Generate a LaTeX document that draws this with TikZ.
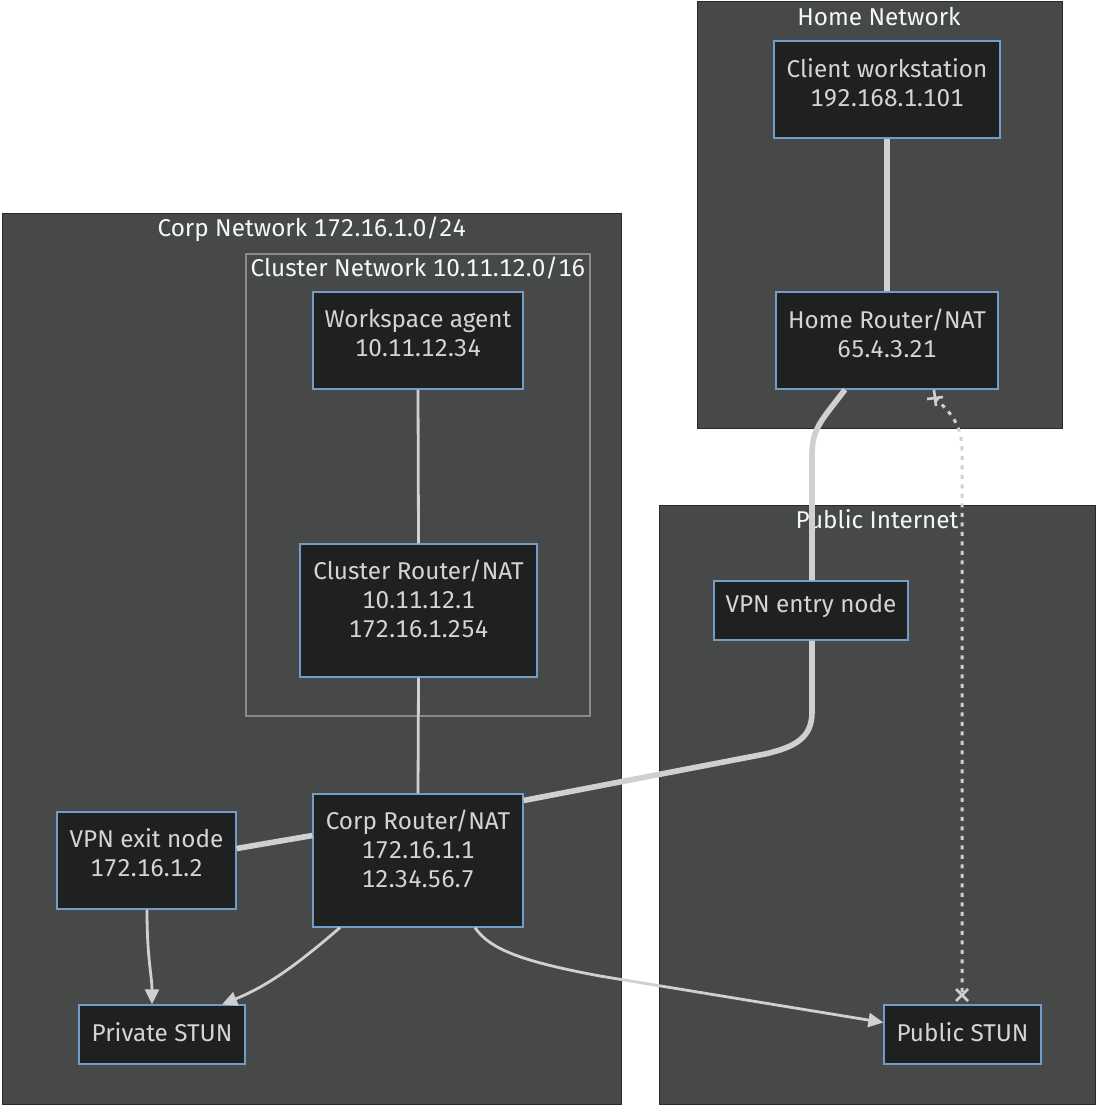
\documentclass[tikz,border=0pt]{standalone}
\usepackage{fontspec}
\setmainfont[Numbers=Monospaced]{Fira Sans}
\usetikzlibrary{arrows.meta}
\definecolor{clbg}{HTML}{474949}
\definecolor{clbd}{HTML}{2A2A2A}
\definecolor{inbd}{HTML}{8A8A8A}
\definecolor{nfill}{HTML}{1F2020}
\definecolor{nbd}{HTML}{739CC6}
\definecolor{edge}{HTML}{D0D0D0}
\definecolor{ntext}{HTML}{D4D4D4}
\definecolor{ttext}{HTML}{F4F8F8}
\begin{document}
\begin{tikzpicture}[x=1pt,y=-1pt,
  cluster/.style={draw=clbd,fill=clbg,line width=1pt},
  innercluster/.style={draw=inbd,line width=1.2pt},
  box/.style={draw=nbd,fill=nfill,line width=1.2pt,inner sep=0pt},
  boxtext/.style={text=ntext,align=center,inner sep=0pt,font=\fontsize{24.3}{29}\selectfont},
  ctitle/.style={text=ttext,inner sep=0pt,font=\fontsize{24.3}{29}\selectfont},
  thin/.style={draw=edge,line width=2.8pt},
  thick/.style={draw=edge,line width=5.6pt},
  arr/.style={draw=edge,line width=2.8pt,-{Triangle[length=15pt,width=14pt]}},
  dotl/.style={draw=edge,line width=3pt,dash pattern=on 4pt off 5.5pt},
  crossm/.style={draw=edge,line width=2.6pt}
]
\useasboundingbox (0,0) rectangle (1100,1107);
% clusters
\draw[cluster] (697,2) rectangle (1062,428);
\node[ctitle] (homet) at (879,17) {Home Network};
\draw[cluster] (2,214) rectangle (621,1104);
\node[ctitle] (corpt) at (312,229) {Corp Network 172.16.1.0/24};
\draw[innercluster] (246,254) rectangle (590,716);
\node[ctitle] (clut) at (418,268) {Cluster Network 10.11.12.0/16};
\draw[cluster] (659,505) rectangle (1095,1104);
\node[ctitle] (pubt) at (877,519) {Public Internet};

% nodes
\node[box,minimum width=226pt,minimum height=97pt] (cw) at (887,89.5) {};
\node[box,minimum width=222pt,minimum height=97pt] (hr) at (887,340.5) {};
\node[box,minimum width=210pt,minimum height=97pt] (wa) at (418,340.5) {};
\node[box,minimum width=237pt,minimum height=133pt] (cr) at (418.5,610.5) {};
\node[box,minimum width=210pt,minimum height=133pt] (co) at (418,860.5) {};
\node[box,minimum width=179pt,minimum height=97pt] (ve) at (146.5,860.5) {};
\node[box,minimum width=166pt,minimum height=59pt] (ps) at (162,1034.5) {};
\node[box,minimum width=194pt,minimum height=59pt] (vn) at (811,610.5) {};
\node[box,minimum width=157pt,minimum height=59pt] (pu) at (962.5,1034.5) {};

% edges
\draw[thick] (cw.south) -- (hr.north);
\draw[thin] (wa.south) -- (cr.north);
\draw[thin] (cr.south) -- (co.north);
\draw[thick] ([xshift=-42pt]hr.south) .. controls (822,420) and (812,428) .. (812,455) -- ([xshift=1pt]vn.north);
\draw[thick] ([xshift=1pt]vn.south) -- (812,712) .. controls (812,738) and (795,747) .. (765,754) -- ([yshift=60pt]co.east);
\draw[thick] ([yshift=25pt]co.west) -- ([yshift=12pt]ve.east);
\draw[arr] ([xshift=0.5pt]ve.south) .. controls (147,960) and (152,975) .. ([xshift=-10pt]ps.north);
\draw[arr] ([xshift=-78pt]co.south) .. controls (300,962) and (270,985) .. ([xshift=60pt]ps.north);
\draw[arr] ([xshift=57pt]co.south) .. controls (490,950) and (525,962) .. (600,976) -- ([yshift=12pt]pu.west);
\coordinate (dA) at (935,398);
\coordinate (dB) at (962,995);
\draw[dotl] (dA) .. controls (952,414) and (962,425) .. (962,452) -- (dB);
\draw[crossm] ([shift={(-8,1)}]dA) -- ([shift={(8,-1)}]dA);
\draw[crossm] ([shift={(-1,-8)}]dA) -- ([shift={(1,8)}]dA);
\draw[crossm] ([shift={(-6,-6)}]dB) -- ([shift={(6,6)}]dB);
\draw[crossm] ([shift={(-6,6)}]dB) -- ([shift={(6,-6)}]dB);

% node texts
\node[boxtext] (cwt) at (887,82.5) {Client workstation\\192.168.1.101};
\node[boxtext] (hrt) at (887,333.5) {Home Router/NAT\\65.4.3.21};
\node[boxtext] (wat) at (418,333.5) {Workspace agent\\10.11.12.34};
\node[boxtext] (crt) at (418.5,599) {Cluster Router/NAT\\10.11.12.1\\172.16.1.254};
\node[boxtext] (cot) at (418,849) {Corp Router/NAT\\172.16.1.1\\12.34.56.7};
\node[boxtext] (vet) at (146.5,852.5) {VPN exit node\\172.16.1.2};
\node[boxtext] (pst) at (162,1032) {Private STUN};
\node[boxtext] (vnt) at (811,606) {VPN entry node};
\node[boxtext] (put) at (962.5,1032) {Public STUN};
\end{tikzpicture}
\end{document}
